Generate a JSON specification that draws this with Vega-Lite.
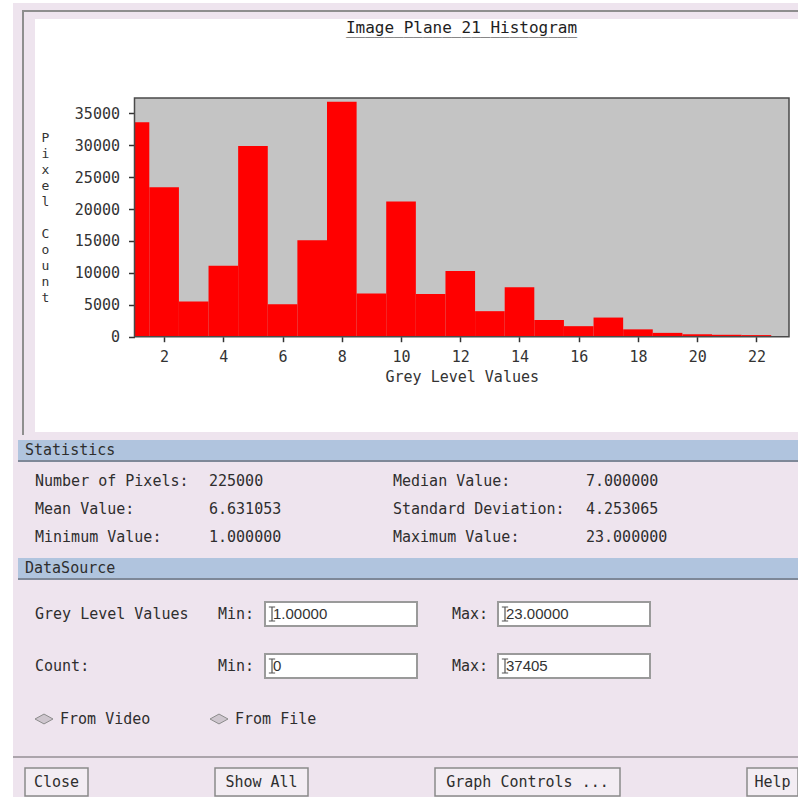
{
  "$schema": "https://vega.github.io/schema/vega-lite/v6.json",
  "background": "#EEE4EE",
  "padding": 0,
  "config": {
    "view": {"stroke": null},
    "concat": {"spacing": 0},
    "text": {"font": "DejaVu Sans Mono", "fontSize": 15, "color": "#2E2E2E"},
    "axis": {"labelFont": "DejaVu Sans Mono", "titleFont": "DejaVu Sans Mono", "labelColor": "#333333", "titleColor": "#333333", "titleFontWeight": "normal", "labelFontSize": 15, "titleFontSize": 15, "tickColor": "#333333", "grid": false, "domain": false}
  },
  "datasets": {
    "histogram": [
      {"grey": 1, "count": 33600}, {"grey": 2, "count": 23400}, {"grey": 3, "count": 5500},
      {"grey": 4, "count": 11100}, {"grey": 5, "count": 29900}, {"grey": 6, "count": 5100},
      {"grey": 7, "count": 15100}, {"grey": 8, "count": 36800}, {"grey": 9, "count": 6750},
      {"grey": 10, "count": 21200}, {"grey": 11, "count": 6700}, {"grey": 12, "count": 10300},
      {"grey": 13, "count": 4000}, {"grey": 14, "count": 7750}, {"grey": 15, "count": 2600},
      {"grey": 16, "count": 1650}, {"grey": 17, "count": 3000}, {"grey": 18, "count": 1150},
      {"grey": 19, "count": 600}, {"grey": 20, "count": 380}, {"grey": 21, "count": 300},
      {"grey": 22, "count": 250}
    ],
    "statistics": [
      {"side": "left", "row": 0, "label": "Number of Pixels:", "value": "225000"},
      {"side": "left", "row": 1, "label": "Mean Value:", "value": "6.631053"},
      {"side": "left", "row": 2, "label": "Minimum Value:", "value": "1.000000"},
      {"side": "right", "row": 0, "label": "Median Value:", "value": "7.000000"},
      {"side": "right", "row": 1, "label": "Standard Deviation:", "value": "4.253065"},
      {"side": "right", "row": 2, "label": "Maximum Value:", "value": "23.000000"}
    ],
    "fields": [
      {"row": "Grey Level Values", "bound": "Min:", "value": "1.00000"},
      {"row": "Grey Level Values", "bound": "Max:", "value": "23.00000"},
      {"row": "Count:", "bound": "Min:", "value": "0"},
      {"row": "Count:", "bound": "Max:", "value": "37405"}
    ],
    "radio": [
      {"option": "From Video", "selected": true},
      {"option": "From File", "selected": false}
    ]
  },
  "spacing": 0,
  "hconcat": [
    {"width": 13, "height": 797, "view": {"fill": "#FFFFFF"}, "data": {"values": []}, "mark": "text"},
    {
      "spacing": 0,
      "vconcat": [
        {"width": 785, "height": 3, "view": {"fill": "#FFFFFF"}, "data": {"values": []}, "mark": "text"},
        {"width": 785, "height": 7, "data": {"values": []}, "mark": "text"},
        {
          "spacing": 0, "bounds": "flush",
          "hconcat": [
            {"width": 9, "height": 2, "data": {"values": []}, "mark": "text"},
            {"width": 776, "height": 2, "view": {"fill": "#8E8E8E"}, "data": {"values": []}, "mark": "text"}
          ]
        },
        {
          "spacing": 0, "bounds": "flush",
          "hconcat": [
            {"width": 9, "height": 7, "data": {"values": []}, "mark": "text"},
            {"width": 2, "height": 7, "view": {"fill": "#8E8E8E"}, "data": {"values": []}, "mark": "text"},
            {"width": 774, "height": 7, "data": {"values": []}, "mark": "text"}
          ]
        },
        {
          "spacing": 0,
          "hconcat": [
            {"width": 9, "height": 413, "data": {"values": []}, "mark": "text"},
            {"width": 2, "height": 413, "view": {"fill": "#8E8E8E"}, "data": {"values": []}, "mark": "text"},
            {"width": 11, "height": 413, "data": {"values": []}, "mark": "text"},
            {
              "width": 763, "height": 413,
              "view": {"fill": "#FFFFFF"},
              "title": {"text": ["Image Plane 21 Histogram", "________________________"], "anchor": "middle", "frame": "group", "dx": 45, "offset": -26, "baseline": "middle", "lineHeight": 1, "font": "DejaVu Sans Mono", "fontSize": 16, "fontWeight": "normal", "color": "#1E1E1E"},
              "layer": [
                {
                  "data": {"values": [{}]},
                  "mark": {"type": "rect", "fill": "#C4C4C4"},
                  "encoding": {
                    "x": {"datum": 1, "type": "quantitative", "title": "Grey Level Values"},
                    "x2": {"datum": 23.1},
                    "y": {"datum": 0, "type": "quantitative", "title": "Pixel Count"},
                    "y2": {"datum": 37405}
                  }
                },
                {
                  "data": {"name": "histogram"},
                  "transform": [{"bin": {"step": 1, "anchor": 0.5, "extent": [0.5, 22.5], "nice": false}, "field": "grey", "as": ["bin_start", "bin_end"]}],
                  "mark": {"type": "rect", "color": "#FF0000"},
                  "encoding": {
                    "x": {
                      "field": "bin_start", "type": "quantitative",
                      "scale": {"domain": [1, 23.1], "range": [99.5, 754], "nice": false, "zero": false, "clamp": true},
                      "axis": {"values": [2, 4, 6, 8, 10, 12, 14, 16, 18, 20, 22], "offset": -95.3, "tickSize": 5, "tickWidth": 1.5, "labelPadding": 8, "labelFlush": false, "labelOverlap": false, "title": "Grey Level Values", "titlePadding": 5}
                    },
                    "x2": {"field": "bin_end"},
                    "y": {
                      "field": "count", "type": "quantitative",
                      "scale": {"domain": [0, 37405], "range": [317.7, 79], "nice": false},
                      "axis": {"values": [0, 5000, 10000, 15000, 20000, 25000, 30000, 35000], "format": "d", "offset": -99.5, "tickSize": 6, "tickWidth": 1.5, "labelPadding": 9, "labelOverlap": false, "title": ["P", "i", "x", "e", "l", "\u2800", "C", "o", "u", "n", "t"], "titleFontSize": 13, "titleAngle": 0, "titleX": -89.5, "titleY": 118, "titleAlign": "center", "titleBaseline": "middle", "titleLineHeight": 16}
                    },
                    "y2": {"datum": 0}
                  }
                },
                {
                  "data": {"values": [{}]},
                  "mark": {"type": "rect", "fill": "#C4C4C4", "fillOpacity": 0, "stroke": "#4A4A4A", "strokeWidth": 1.5},
                  "encoding": {
                    "x": {"datum": 1, "type": "quantitative", "title": "Grey Level Values"},
                    "x2": {"datum": 23.1},
                    "y": {"datum": 0, "type": "quantitative", "title": "Pixel Count"},
                    "y2": {"datum": 37405}
                  }
                }
              ]
            }
          ]
        },
        {
          "spacing": 0, "bounds": "flush",
          "hconcat": [
            {"width": 9, "height": 3, "data": {"values": []}, "mark": "text"},
            {"width": 2, "height": 3, "view": {"fill": "#8E8E8E"}, "data": {"values": []}, "mark": "text"},
            {"width": 774, "height": 3, "data": {"values": []}, "mark": "text"}
          ]
        },
        {"width": 785, "height": 5, "data": {"values": []}, "mark": "text"},
        {
          "spacing": 0, "bounds": "flush",
          "hconcat": [
            {"width": 5, "height": 20, "data": {"values": []}, "mark": "text"},
            {
              "width": 780, "height": 20,
              "view": {"fill": "#B0C4DE"},
              "data": {"values": [{"section": "Statistics"}]},
              "mark": {"type": "text", "align": "left"},
              "encoding": {
                "x": {"field": "section", "type": "nominal", "axis": null, "scale": {"type": "point", "range": [7, 7]}},
                "text": {"field": "section"}
              }
            }
          ]
        },
        {
          "spacing": 0, "bounds": "flush",
          "hconcat": [
            {"width": 5, "height": 2, "data": {"values": []}, "mark": "text"},
            {"width": 780, "height": 2, "view": {"fill": "#7E8898"}, "data": {"values": []}, "mark": "text"}
          ]
        },
        {
          "width": 785, "height": 96,
          "data": {"name": "statistics"},
          "layer": [
            {
              "mark": {"type": "text", "align": "left"},
              "encoding": {
                "x": {"field": "side", "type": "nominal", "axis": null, "scale": {"type": "point", "domain": ["left", "right"], "range": [22, 380], "padding": 0}},
                "y": {"field": "row", "type": "ordinal", "axis": null, "scale": {"type": "point", "domain": [0, 1, 2], "range": [19, 75], "padding": 0}},
                "text": {"field": "label"}
              }
            },
            {
              "mark": {"type": "text", "align": "left"},
              "encoding": {
                "x": {"field": "side", "type": "nominal", "axis": null, "scale": {"type": "point", "domain": ["left", "right"], "range": [196, 573], "padding": 0}},
                "y": {"field": "row", "type": "ordinal", "axis": null, "scale": {"type": "point", "domain": [0, 1, 2], "range": [19, 75], "padding": 0}},
                "text": {"field": "value"}
              }
            }
          ],
          "resolve": {"scale": {"x": "independent"}}
        },
        {
          "spacing": 0, "bounds": "flush",
          "hconcat": [
            {"width": 5, "height": 20, "data": {"values": []}, "mark": "text"},
            {
              "width": 780, "height": 20,
              "view": {"fill": "#B0C4DE"},
              "data": {"values": [{"section": "DataSource"}]},
              "mark": {"type": "text", "align": "left"},
              "encoding": {
                "x": {"field": "section", "type": "nominal", "axis": null, "scale": {"type": "point", "range": [7, 7]}},
                "text": {"field": "section"}
              }
            }
          ]
        },
        {
          "spacing": 0, "bounds": "flush",
          "hconcat": [
            {"width": 5, "height": 2, "data": {"values": []}, "mark": "text"},
            {"width": 780, "height": 2, "view": {"fill": "#7E8898"}, "data": {"values": []}, "mark": "text"}
          ]
        },
        {
          "width": 785, "height": 176,
          "layer": [
            {
              "data": {"name": "fields"},
              "mark": {"type": "rect", "fill": "#FFFFFF", "stroke": "#9A9A9A", "strokeWidth": 2},
              "encoding": {
                "x": {"field": "bound", "type": "nominal", "axis": null, "scale": {"type": "band", "domain": ["Min:", "Max:"], "range": [252, 637], "paddingInner": 0.3476, "paddingOuter": 0}},
                "y": {"field": "row", "type": "nominal", "axis": null, "scale": {"type": "band", "domain": ["Grey Level Values", "Count:"], "range": [22, 98], "paddingInner": 0.5385, "paddingOuter": 0}}
              }
            },
            {
              "data": {"name": "fields"},
              "mark": {"type": "text", "align": "left", "font": "Liberation Sans", "fontSize": 15, "color": "#333333"},
              "encoding": {
                "x": {"field": "bound", "type": "nominal", "axis": null, "scale": {"type": "point", "domain": ["Min:", "Max:"], "range": [260, 493], "padding": 0}},
                "y": {"field": "row", "type": "nominal", "axis": null, "scale": {"type": "point", "domain": ["Grey Level Values", "Count:"], "range": [34, 86], "padding": 0}},
                "text": {"field": "value"}
              }
            },
            {
              "data": {"name": "fields"},
              "mark": {"type": "point", "shape": "M-0.45,-1L0.45,-1M0,-1L0,1M-0.45,1L0.45,1", "size": 196, "filled": false, "stroke": "#555555", "strokeWidth": 1.2, "opacity": 1},
              "encoding": {
                "x": {"field": "bound", "type": "nominal", "axis": null, "scale": {"type": "point", "domain": ["Min:", "Max:"], "range": [259, 492], "padding": 0}},
                "y": {"field": "row", "type": "nominal", "axis": null, "scale": {"type": "point", "domain": ["Grey Level Values", "Count:"], "range": [34, 86], "padding": 0}}
              }
            },
            {
              "data": {"name": "fields"},
              "mark": {"type": "text", "align": "left"},
              "encoding": {
                "x": {"field": "bound", "type": "nominal", "axis": null, "scale": {"type": "point", "domain": ["Min:", "Max:"], "range": [205, 439], "padding": 0}},
                "y": {"field": "row", "type": "nominal", "axis": null, "scale": {"type": "point", "domain": ["Grey Level Values", "Count:"], "range": [34, 86], "padding": 0}},
                "text": {"field": "bound"}
              }
            },
            {
              "data": {"name": "fields"},
              "transform": [{"filter": "datum.bound === 'Min:'"}],
              "mark": {"type": "text", "align": "left"},
              "encoding": {
                "x": {"field": "row", "type": "nominal", "axis": null, "scale": {"type": "point", "domain": ["Grey Level Values", "Count:"], "range": [22, 22], "padding": 0}},
                "y": {"field": "row", "type": "nominal", "axis": null, "scale": {"type": "point", "domain": ["Grey Level Values", "Count:"], "range": [34, 86], "padding": 0}},
                "text": {"field": "row"}
              }
            },
            {
              "data": {"name": "radio"},
              "mark": {"type": "point", "shape": "M-1,0L0,-0.55L1,0L0,0.55Z", "size": 324, "filled": true, "fill": "#CEC6CE", "stroke": "#8C8C8C", "strokeWidth": 1, "opacity": 1},
              "encoding": {
                "x": {"field": "option", "type": "nominal", "axis": null, "scale": {"type": "point", "domain": ["From Video", "From File"], "range": [31, 206], "padding": 0}},
                "y": {"field": "option", "type": "nominal", "axis": null, "scale": {"type": "point", "domain": ["From Video", "From File"], "range": [139, 139], "padding": 0}}
              }
            },
            {
              "data": {"name": "radio"},
              "mark": {"type": "text", "align": "left"},
              "encoding": {
                "x": {"field": "option", "type": "nominal", "axis": null, "scale": {"type": "point", "domain": ["From Video", "From File"], "range": [47, 222], "padding": 0}},
                "y": {"field": "option", "type": "nominal", "axis": null, "scale": {"type": "point", "domain": ["From Video", "From File"], "range": [139, 139], "padding": 0}},
                "text": {"field": "option"}
              }
            }
          ],
          "resolve": {"scale": {"x": "independent", "y": "independent"}}
        },
        {"width": 785, "height": 2, "view": {"fill": "#ABA4AB"}, "data": {"values": []}, "mark": "text"},
        {"width": 785, "height": 9, "data": {"values": []}, "mark": "text"},
        {
          "spacing": 0, "bounds": "flush",
          "hconcat": [
            {"width": 12, "height": 28, "data": {"values": []}, "mark": "text"},
            {"width": 63, "height": 28, "view": {"fill": "#F3EDF3", "stroke": "#8A8A8A", "strokeWidth": 1.5}, "data": {"values": [{"label": "Close"}]}, "mark": "text", "encoding": {"text": {"field": "label"}}},
            {"width": 127, "height": 28, "data": {"values": []}, "mark": "text"},
            {"width": 93, "height": 28, "view": {"fill": "#F3EDF3", "stroke": "#8A8A8A", "strokeWidth": 1.5}, "data": {"values": [{"label": "Show All"}]}, "mark": "text", "encoding": {"text": {"field": "label"}}},
            {"width": 127, "height": 28, "data": {"values": []}, "mark": "text"},
            {"width": 185, "height": 28, "view": {"fill": "#F3EDF3", "stroke": "#8A8A8A", "strokeWidth": 1.5}, "data": {"values": [{"label": "Graph Controls ..."}]}, "mark": "text", "encoding": {"text": {"field": "label"}}},
            {"width": 127, "height": 28, "data": {"values": []}, "mark": "text"},
            {"width": 51, "height": 28, "view": {"fill": "#F3EDF3", "stroke": "#8A8A8A", "strokeWidth": 1.5}, "data": {"values": [{"label": "Help"}]}, "mark": "text", "encoding": {"text": {"field": "label"}}}
          ]
        },
        {"width": 785, "height": 2, "data": {"values": []}, "mark": "text"}
      ]
    }
  ]
}
